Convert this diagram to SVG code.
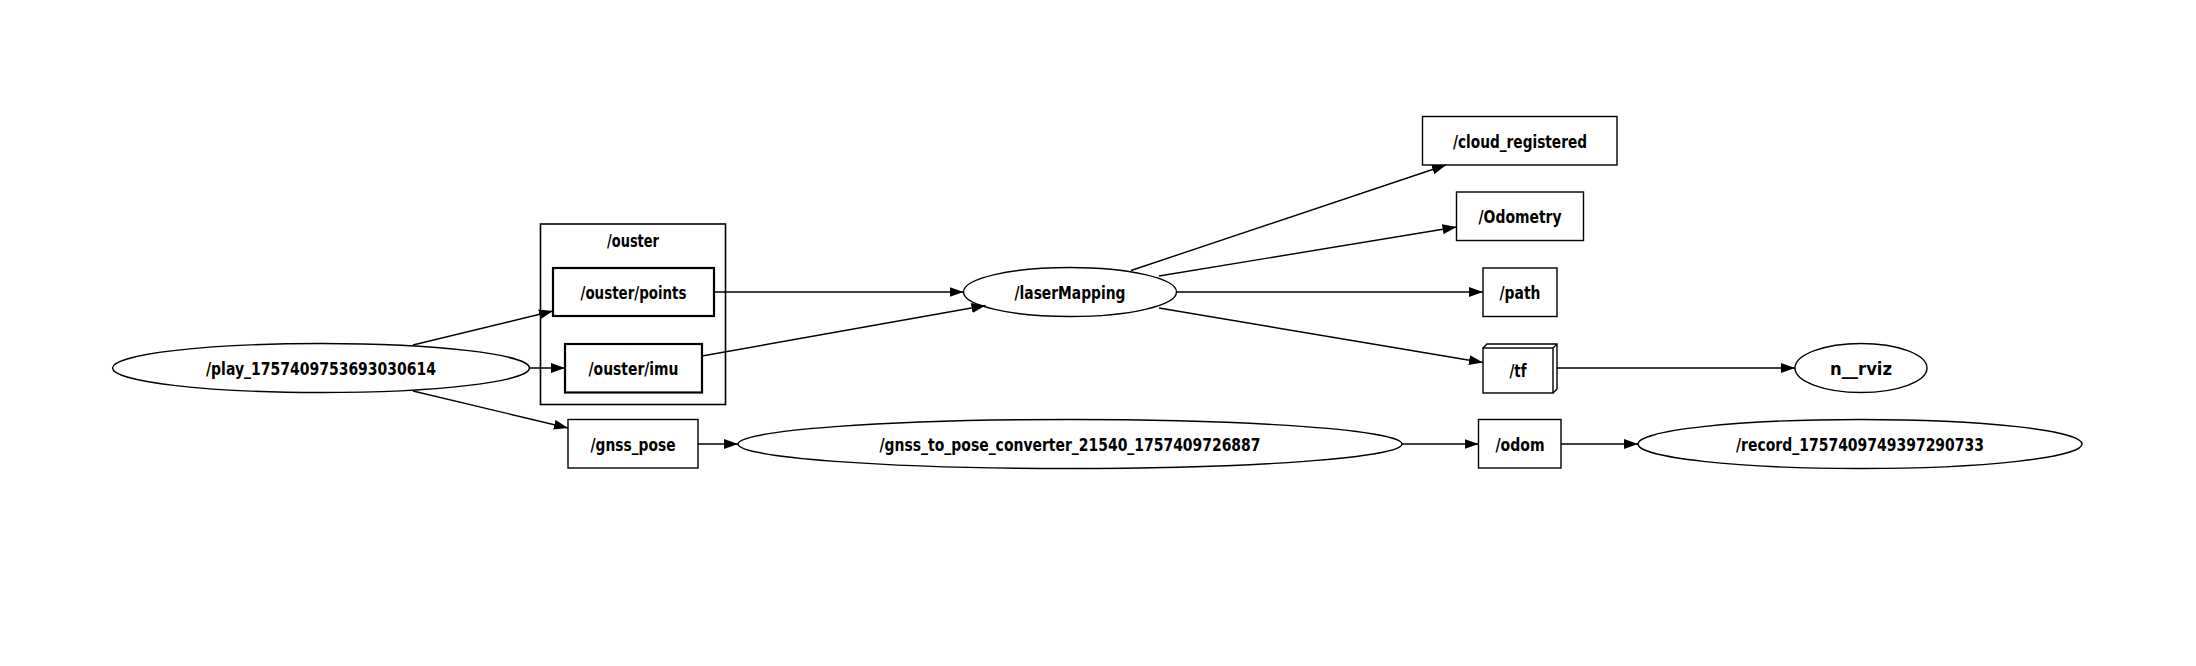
<svg xmlns="http://www.w3.org/2000/svg" width="2196" height="666" viewBox="0 0 2196 666">
<style>
.n{fill:none;stroke:#000;stroke-width:1.4}
.b{fill:none;stroke:#000;stroke-width:2.2}
.c{fill:none;stroke:#000;stroke-width:1.6}
.t{font-family:"DejaVu Sans","Liberation Sans",sans-serif;font-weight:bold;font-size:17px;text-anchor:middle;fill:#000}
.e{stroke:#000;stroke-width:1.4;fill:none;marker-end:url(#ah)}
</style>
<defs>
<marker id="ah" markerUnits="userSpaceOnUse" markerWidth="15" markerHeight="11" refX="14" refY="5" orient="auto">
<path d="M0,0 L14,5 L0,10 z" fill="#000"/>
</marker>
</defs>
<rect width="2196" height="666" fill="#fff"/>
<g id="cluster_ouster">
<rect class="c" x="540.5" y="224" width="185" height="180.5"/>
<text class="t" x="633" y="247" textLength="52" lengthAdjust="spacingAndGlyphs">/ouster</text>
</g>
<g id="node_play">
<ellipse class="n" cx="321" cy="368" rx="208.5" ry="24.5"/>
<text class="t" x="321" y="375" textLength="230" lengthAdjust="spacingAndGlyphs">/play_1757409753693030614</text>
</g>
<g id="node_ouster_points">
<rect class="b" x="553" y="268" width="161" height="48"/>
<text class="t" x="633.5" y="298.5" textLength="106" lengthAdjust="spacingAndGlyphs">/ouster/points</text>
</g>
<g id="node_ouster_imu">
<rect class="b" x="565" y="344" width="137" height="48.5"/>
<text class="t" x="633.5" y="374.5" textLength="90" lengthAdjust="spacingAndGlyphs">/ouster/imu</text>
</g>
<g id="node_gnss_pose">
<rect class="n" x="568" y="419.5" width="130" height="48.5"/>
<text class="t" x="633" y="450.5" textLength="85" lengthAdjust="spacingAndGlyphs">/gnss_pose</text>
</g>
<g id="node_gnss_to_pose">
<ellipse class="n" cx="1070" cy="444" rx="332" ry="24.5"/>
<text class="t" x="1070" y="450.5" textLength="381" lengthAdjust="spacingAndGlyphs">/gnss_to_pose_converter_21540_1757409726887</text>
</g>
<g id="node_laserMapping">
<ellipse class="n" cx="1070" cy="292" rx="106.5" ry="24.5"/>
<text class="t" x="1070" y="298.5" textLength="111" lengthAdjust="spacingAndGlyphs">/laserMapping</text>
</g>
<g id="node_cloud_registered">
<rect class="n" x="1422.5" y="116.5" width="194.5" height="48.5"/>
<text class="t" x="1520" y="147.5" textLength="134" lengthAdjust="spacingAndGlyphs">/cloud_registered</text>
</g>
<g id="node_Odometry">
<rect class="n" x="1456.5" y="192" width="127" height="48.5"/>
<text class="t" x="1520" y="223" textLength="83" lengthAdjust="spacingAndGlyphs">/Odometry</text>
</g>
<g id="node_path">
<rect class="n" x="1483" y="268" width="74" height="48.5"/>
<text class="t" x="1520" y="298.5" textLength="41" lengthAdjust="spacingAndGlyphs">/path</text>
</g>
<g id="node_tf">
<rect class="n" x="1483" y="348" width="70" height="45"/>
<path class="n" d="M1483,348 L1487,344 L1557,344 L1557,389 L1553,393 M1553,348 L1557,344"/>
<text class="t" x="1518" y="377" textLength="17" lengthAdjust="spacingAndGlyphs">/tf</text>
</g>
<g id="node_rviz">
<ellipse class="n" cx="1861" cy="368" rx="66" ry="24.5"/>
<text class="t" x="1861" y="374.5" textLength="62" lengthAdjust="spacingAndGlyphs">n__rviz</text>
</g>
<g id="node_odom">
<rect class="n" x="1478.5" y="419.5" width="82.5" height="48.5"/>
<text class="t" x="1520" y="450.5" textLength="49" lengthAdjust="spacingAndGlyphs">/odom</text>
</g>
<g id="node_record">
<ellipse class="n" cx="1860" cy="444" rx="222" ry="24.5"/>
<text class="t" x="1860" y="450.5" textLength="248" lengthAdjust="spacingAndGlyphs">/record_1757409749397290733</text>
</g>
<g id="edges">
<line class="e" x1="413" y1="345" x2="553" y2="311"/>
<line class="e" x1="529.5" y1="368" x2="565" y2="368"/>
<line class="e" x1="413" y1="391" x2="568" y2="428"/>
<line class="e" x1="714" y1="292" x2="963.5" y2="292"/>
<line class="e" x1="702" y1="356" x2="985.5" y2="305.5"/>
<line class="e" x1="1131" y1="270.5" x2="1446" y2="165"/>
<line class="e" x1="1159" y1="276" x2="1456.5" y2="227"/>
<line class="e" x1="1176.5" y1="292" x2="1483" y2="292"/>
<line class="e" x1="1159" y1="308" x2="1483" y2="362.5"/>
<line class="e" x1="1557" y1="368" x2="1795" y2="368"/>
<line class="e" x1="698" y1="444" x2="738" y2="444"/>
<line class="e" x1="1402" y1="444" x2="1478.5" y2="444"/>
<line class="e" x1="1561" y1="444" x2="1638" y2="444"/>
</g>
</svg>
